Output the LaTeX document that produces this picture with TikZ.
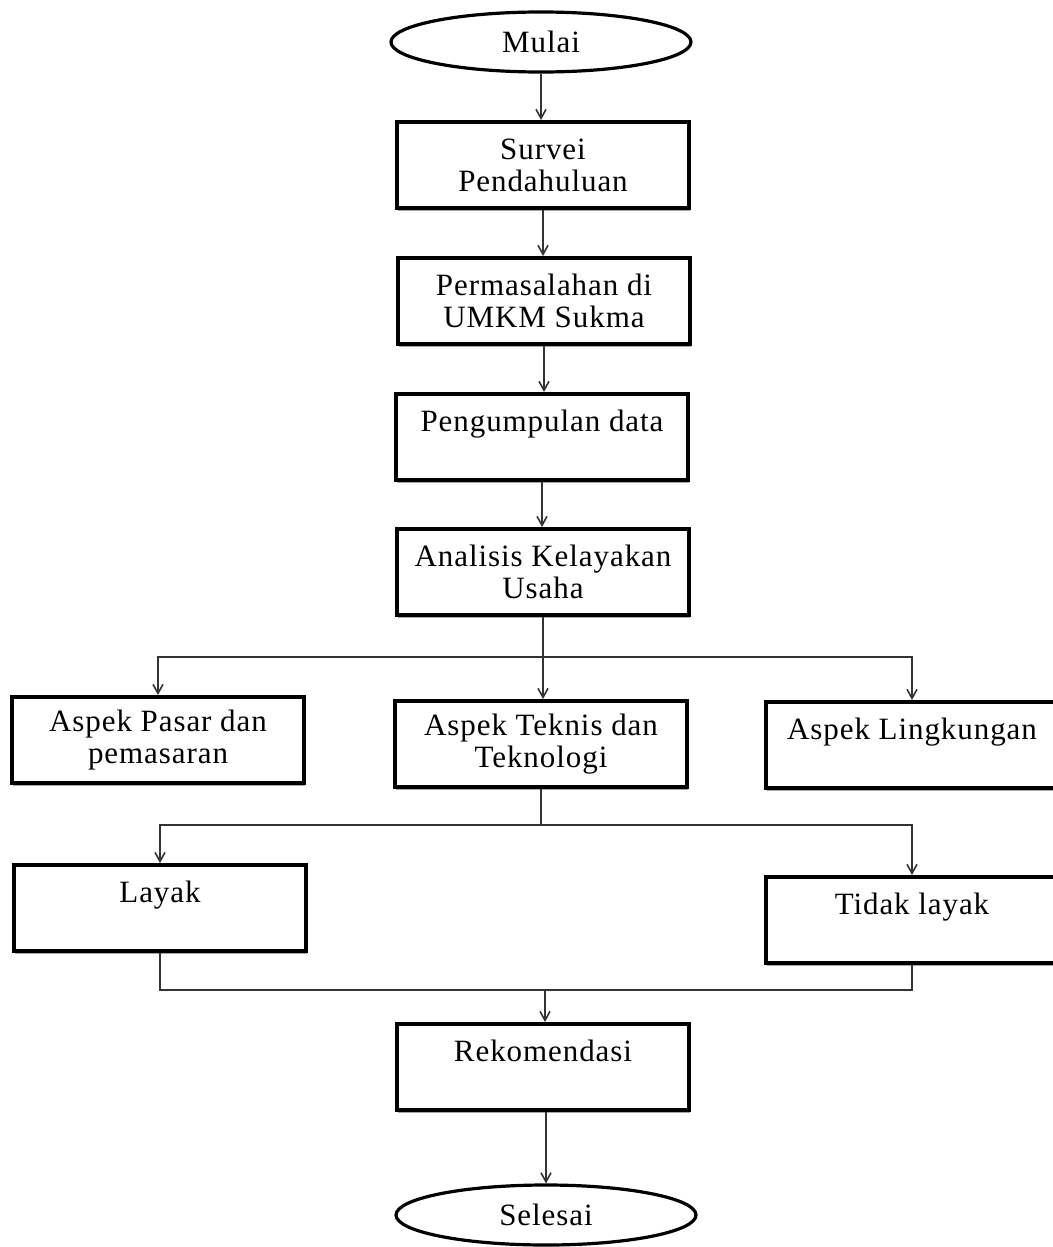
\documentclass[tikz,border=0pt]{standalone}
\usepackage{fontspec}
\setmainfont[LetterSpace=3]{Liberation Serif}
\usepackage{tikz}
\usetikzlibrary{shapes.geometric, arrows, arrows.meta, shadows, calc}
\tikzstyle{box} = [
    rectangle, text centered, align=center,
    minimum width=292pt,
    minimum height=86pt,
    line width=4pt,
    draw=black, fill=white,
    drop shadow={shadow xshift=0.5pt, shadow yshift=-3pt, fill=black!35, opacity=1},
    font=\fontsize{31}{32}\selectfont,
]
\tikzstyle{terminal} = [
    ellipse, text centered,
    minimum width=300pt,
    minimum height=60pt,
    line width=3.2pt,
    draw=black, fill=white,
    font=\fontsize{31}{32}\selectfont,
]
\tikzstyle{arrow} = [->,>={Straight Barb[length=9pt,width=10pt]}, line width=1.6pt, draw=black!80]
\tikzstyle{line} = [line width=1.6pt, draw=black!80]

\begin{document}
\begin{tikzpicture}[x=1pt, y=-1pt]
    \useasboundingbox (0,0) rectangle (1052,1247);

    % nodes
    \node (mulai) at (541,42) [terminal] {Mulai};
    \node (survei) at (543,165) [box] {Survei\\Pendahuluan};
    \node (masalah) at (544,301) [box] {Permasalahan di\\UMKM Sukma};
    \node (data) at (542,437) [box] {Pengumpulan data\\\mbox{}};
    \node (analisis) at (543,572) [box] {Analisis Kelayakan\\Usaha};
    \node (pasar) at (158,740) [box] {Aspek Pasar dan\\pemasaran};
    \node (teknis) at (541,744) [box] {Aspek Teknis dan\\Teknologi};
    \node (lingkungan) at (912,745) [box] {Aspek Lingkungan\\\mbox{}};
    \node (layak) at (160,908) [box] {Layak\\\mbox{}};
    \node (tidak) at (912,920) [box] {Tidak layak\\\mbox{}};
    \node (rekom) at (543,1067) [box] {Rekomendasi\\\mbox{}};
    \node (selesai) at (546,1215) [terminal] {Selesai};

    % junctions
    \coordinate (split1) at (541,657);
    \coordinate (split2) at (541,825);
    \coordinate (merge) at (545,990);

    % arrows
    \draw [arrow] (mulai.south) -- (mulai.south |- survei.north);
    \draw [arrow] (survei.south) -- (survei.south |- masalah.north);
    \draw [arrow] (masalah.south) -- (masalah.south |- data.north);
    \draw [arrow] (data.south) -- (data.south |- analisis.north);
    \draw [arrow] (analisis.south) -- (analisis.south |- teknis.north);
    \draw [arrow] (split1) -| (pasar.north);
    \draw [arrow] (split1) -| (lingkungan.north);
    \draw [line] (teknis.south) -- (split2);
    \draw [arrow] (split2) -| (layak.north);
    \draw [arrow] (split2) -| (tidak.north);
    \draw [line] (layak.south) |- (merge);
    \draw [line] (tidak.south) |- (merge);
    \draw [arrow] (merge) -- (merge |- rekom.north);
    \draw [arrow] (selesai.north |- rekom.south) -- (selesai.north);
\end{tikzpicture}
\end{document}
